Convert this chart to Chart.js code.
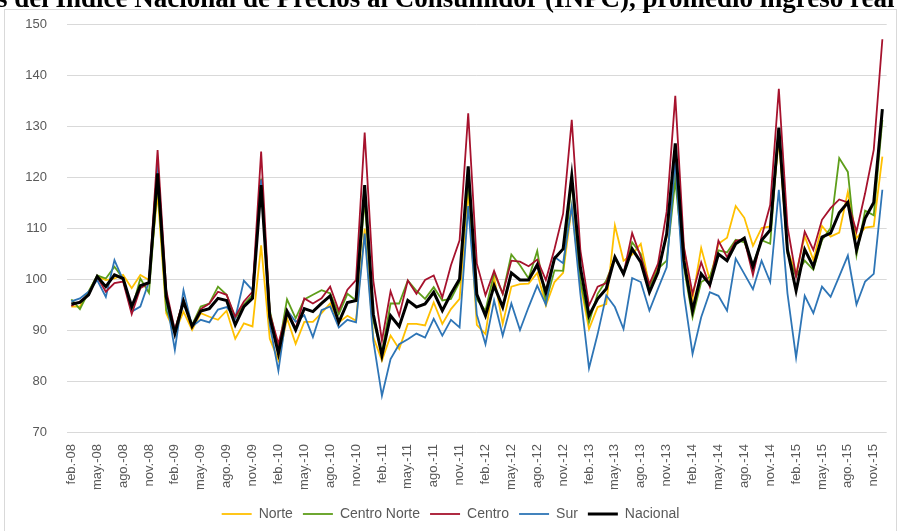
<!DOCTYPE html>
<html>
<head>
<meta charset="utf-8">
<script src="https://cdn.jsdelivr.net/npm/chart.js@4.4.1/dist/chart.umd.min.js"></script>
<style>
  html, body { margin: 0; padding: 0; background: #fff; overflow: hidden; }
  #wrap { position: relative; width: 902px; height: 531px; overflow: hidden; }
  #frame { position: absolute; left: 4px; top: 9px; width: 893px; height: 540px; border: 1px solid #d9d9d9; box-sizing: border-box; }
  #title { position: absolute; left: -3px; top: -17px; line-height: 30px; white-space: nowrap; font: bold 27px "Liberation Serif", "Times New Roman", serif; color: #000; }
  canvas { position: absolute; left: 0; top: 0; }
</style>
</head>
<body>
<div id="wrap">
  <div id="frame"></div>
  <canvas id="c" width="902" height="531"></canvas>
  <div id="title">s del Índice Nacional de Precios al Consumidor (INPC), promedio ingreso real =</div>
</div>
<script>
const monthNames = ["ene.","feb.","mar.","abr.","may.","jun.","jul.","ago.","sep.","oct.","nov.","dic."];
const years = ["08","09","10","11","12","13","14","15"];
const firstMonth = 1;   // feb.-08
const monthCount = 95;  // feb.-08 ... dic.-15
const yTicks = [70, 80, 90, 100, 110, 120, 130, 140, 150];

const categories = [];
for (let k = 0; k < monthCount; k++) {
  const m = (firstMonth + k) % 12;
  const y = years[Math.floor((firstMonth + k) / 12)];
  categories.push(monthNames[m] + "-" + y);
}

const norte = [94.6,94.6,97.5,100.5,99.8,100.1,100.8,98.2,100.8,99.8,116.8,93.3,89.5,93.6,90,93.3,92.6,92,93.8,88.3,91.3,90.7,106.6,88.3,84.1,92.3,87.3,91.6,91.6,93.3,95.2,91.5,92.8,91.8,109.9,88.6,84,88.9,86.3,91.2,91.2,90.9,95.4,91.2,94.1,96.1,117.4,91,89.2,100.4,91.2,98.5,99,99.1,101.2,94.8,99.4,101.2,114.1,99,90.2,94.5,95.1,110.5,103.6,104.8,106.9,98.7,102.3,108.2,122.3,106,96.1,106.1,99.8,106.9,108.1,114.3,112,106.5,110,110.3,127.3,105.7,101.1,108.4,103.7,110.4,108.3,109.1,117.1,108,110.1,110.3,124];
const centroNorte = [96,94.1,97.5,100.7,100.1,102.4,100.1,93.9,100.1,97.3,118.8,93.9,90,95.9,91,94.6,95.2,98.5,96.9,92.3,95,96.9,119.7,93.9,86.1,96,92.3,96,96.9,97.8,97.2,93.1,97.1,95.8,115.4,91.8,85.6,95.2,95.2,99.7,97.7,96.1,98.4,95.8,96.1,99.4,119.4,96,93.8,101.2,97.1,104.8,102.7,100.1,105.5,95.4,101.7,101.6,119.4,99.7,91.5,97.1,99.7,104,101,107.2,104.9,98.4,102,103.6,119.4,102.3,92.5,99.4,100.4,105.6,105.2,107.7,107.2,102.7,107.6,106.9,129.2,105,100.5,103.6,101.8,107.6,110,123.7,121,104.7,113.4,112.5,131.2];
const centro = [94.7,95.6,96.9,100.5,97.5,99.2,99.5,93.1,98.2,99.2,125.3,97.8,90,95.9,90.7,94.1,95.2,97.5,96.9,92.6,95.6,97.5,125,93.3,87.3,93.9,90.3,96.2,95.2,96.2,98.5,93.8,97.9,99.8,128.7,99.7,87.9,97.6,92.8,99.7,97.1,99.8,100.7,96.4,102.7,107.6,132.5,103,96.8,101.6,97.1,103.6,103.4,102.5,103.8,99.8,105.9,112.8,131.2,105.6,94.8,98.5,99.2,104.3,101,109,104.3,99,103,113.2,135.9,106.3,97.1,103.3,98.5,107.5,104.3,107.5,107.8,100.8,108.3,114.5,137.3,110.3,100.5,109.3,105.7,111.6,113.9,115.6,115,109.3,116.8,125.3,147];
const sur = [95.6,96.2,97.5,99.8,96.5,103.7,99.8,93.6,94.6,99.5,122.7,96.2,86.1,97.8,90.7,92,91.5,94,94.5,92.3,99.7,97.8,119.5,91,82,93.9,91.6,92.9,88.6,93.9,94.6,90.5,92,91.5,108.9,87.9,77.1,84.3,87.2,88.2,89.3,88.5,92.2,88.9,92,90.5,114.3,93,87.2,95.8,88.9,95.2,90,94.5,98.7,95,104.3,103.1,114.3,97.1,82.5,89.2,96.8,94.5,90.2,100.2,99.4,93.8,98.1,102.3,123.3,97.1,85.3,92.5,97.4,96.7,93.8,104,101,98,103.6,99.4,117.5,97.2,84.6,96.7,93.3,98.5,96.5,100.5,104.6,95,99.5,101,117.5];
const nacional = [95.1,95.4,96.9,100.5,98.5,100.8,100.1,94.6,98.7,99.3,120.7,96.5,89.3,95.6,90.7,93.7,94.2,96.2,95.8,91,94.6,96.2,118.4,92.6,85.4,93.6,90,94.2,93.6,95.2,96.7,91.5,95.4,95.8,118.4,93.1,85,92.8,90.7,95.8,94.5,95.1,97.4,93.8,97.1,100,122.1,97,92.8,98.7,94.5,101.2,99.8,99.8,102.8,97.4,104,105.9,120.2,102.3,92.8,96.1,98.1,104.3,101,105.9,103.3,97.4,101.3,108.8,126.6,103.6,93.8,101,98.9,104.9,103.6,106.9,108,102.4,107.6,109.6,129.7,105.7,97.7,105.8,102.4,108.2,109,113,115,105.7,111.9,115,133.3];

const seriesNames = ["Norte", "Centro Norte", "Centro", "Sur", "Nacional"];
const seriesColors = ["#FFC000", "#5E9E1A", "#A6122D", "#2E75B6", "#000000"];
const seriesWidths = [1.8, 1.8, 1.8, 1.8, 3];
const seriesOrder = [4, 3, 1, 2, 0];
const seriesData = [norte, centroNorte, centro, sur, nacional];

const datasets = seriesNames.map((name, i) => ({
  label: name,
  data: seriesData[i],
  borderColor: seriesColors[i],
  backgroundColor: seriesColors[i],
  borderWidth: seriesWidths[i],
  pointRadius: 0,
  pointHoverRadius: 0,
  pointStyle: 'line',
  tension: 0,
  fill: false,
  order: seriesOrder[i]
}));

new Chart(document.getElementById('c'), {
  type: 'line',
  data: { labels: categories, datasets },
  options: {
    responsive: false,
    animation: false,
    devicePixelRatio: 1,
    layout: { padding: { left: 5, right: 6, top: 24, bottom: 0 } },
    plugins: {
      title: { display: false },
      tooltip: { enabled: false },
      legend: {
        position: 'bottom',
        labels: {
          usePointStyle: true,
          pointStyle: 'line',
          pointStyleWidth: 30,
          boxWidth: 30,
          padding: 10,
          color: '#595959',
          font: { family: 'Liberation Sans', size: 14 },
          sort: function(a, b) { return a.datasetIndex - b.datasetIndex; }
        }
      }
    },
    scales: {
      x: {
        offset: true,
        grid: { display: false },
        border: { display: false },
        ticks: {
          autoSkip: false,
          maxRotation: 90,
          minRotation: 90,
          color: '#595959',
          padding: 4,
          font: { family: 'Liberation Sans', size: 13 },
          callback: function(value, index) {
            return index % 3 === 0 ? categories[index] : '';
          }
        },
        afterFit: function(scale) { scale.height = 65; }
      },
      y: {
        min: 70,
        max: 150,
        afterBuildTicks: function(scale) { scale.ticks = yTicks.map(v => ({ value: v })); },
        grid: { color: '#d9d9d9', lineWidth: 1, drawTicks: false },
        border: { display: false },
        ticks: {
          color: '#595959',
          padding: 20,
          font: { family: 'Liberation Sans', size: 13 }
        },
        afterFit: function(scale) {
          scale.width = 62;
          scale.paddingTop = 0;
          scale.paddingBottom = 0;
        }
      }
    }
  }
});
</script>
</body>
</html>
